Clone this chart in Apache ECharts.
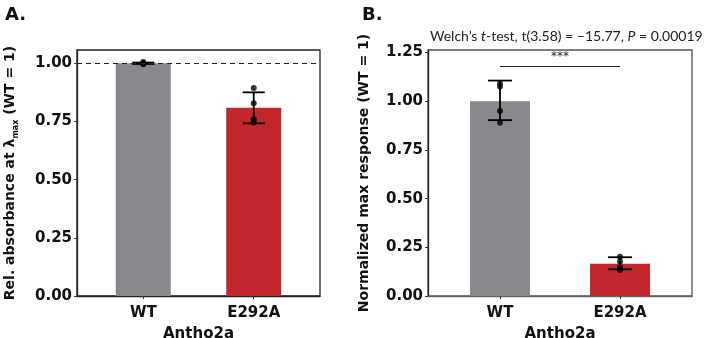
<!DOCTYPE html>
<html>
<head>
<meta charset="utf-8">
<script src="https://cdn.jsdelivr.net/npm/echarts@6/dist/echarts.min.js"></script>
<style>
  html, body { margin: 0; padding: 0; background: #fff; }
  #main { width: 705px; height: 338px; }
</style>
</head>
<body>
<div id="main"></div>
<script>
// categories sit at x = 1 and 2 on a value axis (ggplot-like padding of 0.6)
const categories = ['WT', 'E292A'];
const catPos = [1, 2];
const barColors = ['#88898c', '#c1272d'];

// Panel A: relative absorbance at lambda max
const absMean = [1.0, 0.809];
const absLow = [0.997, 0.742];
const absHigh = [1.003, 0.875];
const absPoints = [
    [1.005, 1.0, 0.996, 0.998],
    [0.894, 0.828, 0.759, 0.745]
];

// Panel B: normalized max response
const respMean = [1.0, 0.165];
const respLow = [0.903, 0.137];
const respHigh = [1.106, 0.199];
const respPoints = [
    [1.09, 1.075, 0.95, 0.89],
    [0.202, 0.177, 0.148, 0.134]
];
const yTicks = {
    a: [0, 0.25, 0.5, 0.75, 1.0],
    b: [0, 0.25, 0.5, 0.75, 1.0, 1.25]
};

const chart = echarts.init(document.getElementById('main'));
const FONT = 'DejaVu Sans';

function barData(means) {
    return means.map(function (m, i) {
        return { value: [catPos[i], m], itemStyle: { color: barColors[i] } };
    });
}
function pointData(points) {
    const out = [];
    points.forEach(function (list, i) {
        list.forEach(function (v) { out.push([catPos[i], v]); });
    });
    return out;
}
function errData(low, high) {
    return low.map(function (l, i) { return [catPos[i], l, high[i]]; });
}
function renderErr(params, api) {
    const x = api.value(0);
    const lo = api.coord([x, api.value(1)]);
    const hi = api.coord([x, api.value(2)]);
    const half = api.size([0.1, 0])[0];
    const style = { stroke: '#000', lineWidth: 1.8 };
    return {
        type: 'group',
        children: [
            { type: 'line', shape: { x1: lo[0], y1: lo[1], x2: hi[0], y2: hi[1] }, style: style },
            { type: 'line', shape: { x1: lo[0] - half, y1: lo[1], x2: lo[0] + half, y2: lo[1] }, style: style },
            { type: 'line', shape: { x1: hi[0] - half, y1: hi[1], x2: hi[0] + half, y2: hi[1] }, style: style }
        ]
    };
}

function xAxis(idx) {
    return {
        type: 'value', gridIndex: idx, min: 0.4, max: 2.6,
        name: 'Antho2a', nameLocation: 'middle', nameGap: 31,
        nameTextStyle: { fontFamily: FONT, fontWeight: 'bold', fontSize: 15, color: '#111' },
        axisLine: { show: true, lineStyle: { color: idx ? '#666' : '#222', width: 1.3 } },
        axisTick: { show: true, customValues: catPos, length: 3, lineStyle: { color: '#333' } },
        axisLabel: {
            customValues: catPos, margin: 10,
            fontFamily: FONT, fontWeight: 'bold', fontSize: 15, color: '#111',
            formatter: function (v) { return categories[catPos.indexOf(v)] || ''; }
        },
        splitLine: { show: false }
    };
}
function yAxis(idx, max, ticks, name, gap, rich) {
    return {
        type: 'value', gridIndex: idx, min: 0, max: max,
        name: name, nameLocation: 'middle', nameGap: gap,
        nameTextStyle: { fontFamily: FONT, fontWeight: 'bold', fontSize: 14, color: '#111', rich: rich },
        axisLine: { show: true, lineStyle: { color: '#222', width: 1.3 } },
        axisTick: { show: true, customValues: ticks, length: 3, lineStyle: { color: '#333' } },
        axisLabel: {
            customValues: ticks, margin: 5,
            fontFamily: FONT, fontWeight: 'bold', fontSize: 15, color: '#111',
            formatter: function (v) { return v.toFixed(2); }
        },
        splitLine: { show: false }
    };
}

const nameRich = {
    a: { fontFamily: FONT, fontWeight: 'bold', fontSize: 14, color: '#111', lineHeight: 20, verticalAlign: 'middle' },
    s: { fontFamily: FONT, fontWeight: 'bold', fontSize: 8, color: '#111', lineHeight: 20, verticalAlign: 'bottom' }
};
const nameRichB = { a: nameRich.a };

chart.setOption({
    animation: false,
    title: [
        { text: 'A.', left: 0, top: 1, textStyle: { fontFamily: FONT, fontWeight: 'bold', fontSize: 18, color: '#111' } },
        { text: 'B.', left: 357, top: 1, textStyle: { fontFamily: FONT, fontWeight: 'bold', fontSize: 18, color: '#111' } },
        {
            text: '{n|Welch\u2019s }{i|t}{n|-test, t(3.58) = \u221215.77, }{i|P}{n| = 0.00019}',
            left: 425, top: 24,
            textStyle: {
                fontWeight: 'normal',
                rich: {
                    n: { fontFamily: 'Lato', fontWeight: 'normal', fontSize: 14, color: '#222' },
                    i: { fontFamily: 'Lato', fontWeight: 'normal', fontSize: 14, fontStyle: 'italic', color: '#222' }
                }
            }
        }
    ],
    grid: [
        { left: 77, right: 385, top: 50, bottom: 42, outerBoundsMode: 'none', show: true, borderColor: '#222', borderWidth: 1.3 },
        { left: 428, right: 13, top: 50, bottom: 42, outerBoundsMode: 'none', show: true, borderColor: '#555', borderWidth: 1.3 }
    ],
    xAxis: [xAxis(0), xAxis(1)],
    yAxis: [
        yAxis(0, 1.057, yTicks.a, '{a|Rel. absorbance at \u03bb}{s|max}{a| (WT = 1)}', 57, nameRich),
        yAxis(1, 1.263, yTicks.b, '{a|Normalized max response (WT = 1)}', 54, nameRichB)
    ],
    series: [
        {
            type: 'bar', xAxisIndex: 0, yAxisIndex: 0, barWidth: 55,
            data: barData(absMean),
            markLine: {
                silent: true, symbol: 'none', label: { show: false },
                lineStyle: { color: '#222', type: [5, 4], width: 1.2 },
                data: [{ yAxis: 1 }]
            }
        },
        {
            type: 'custom', xAxisIndex: 0, yAxisIndex: 0,
            renderItem: renderErr, data: errData(absLow, absHigh), z: 3
        },
        {
            type: 'scatter', xAxisIndex: 0, yAxisIndex: 0, symbolSize: 6,
            itemStyle: { color: '#000' }, data: pointData(absPoints), z: 4
        },
        {
            type: 'bar', xAxisIndex: 1, yAxisIndex: 1, barWidth: 60,
            data: barData(respMean),
            markLine: {
                silent: true, symbol: 'none',
                lineStyle: { color: '#222', type: 'solid', width: 1.2 },
                label: {
                    show: true, position: 'middle', formatter: '***', distance: 3,
                    fontFamily: FONT, fontSize: 12, color: '#222'
                },
                data: [[{ coord: [1, 1.181] }, { coord: [2, 1.181] }]]
            }
        },
        {
            type: 'custom', xAxisIndex: 1, yAxisIndex: 1,
            renderItem: renderErr, data: errData(respLow, respHigh), z: 3
        },
        {
            type: 'scatter', xAxisIndex: 1, yAxisIndex: 1, symbolSize: 6,
            itemStyle: { color: '#000' }, data: pointData(respPoints), z: 4
        }
    ]
});
</script>
</body>
</html>
